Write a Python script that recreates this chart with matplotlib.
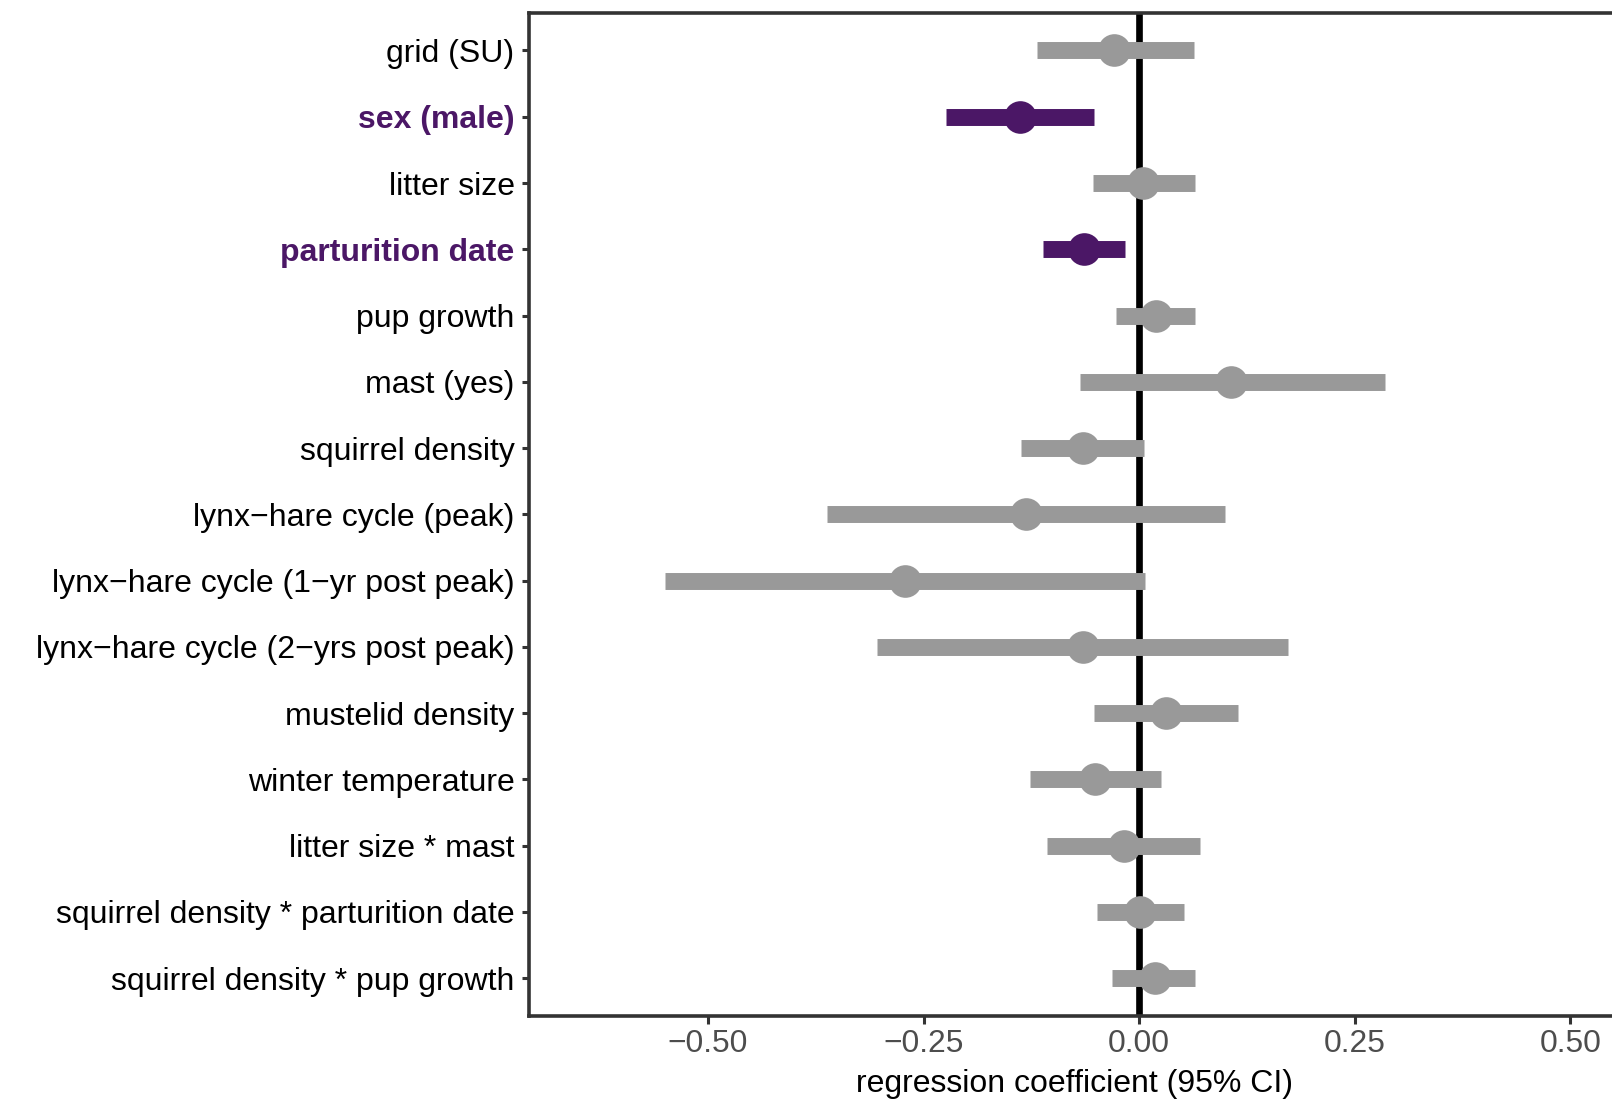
import matplotlib
matplotlib.use("Agg")
import matplotlib.pyplot as plt

plt.rcParams['font.family'] = ['Liberation Sans', 'DejaVu Sans']

labels = ["grid (SU)", "sex (male)", "litter size", "parturition date", "pup growth",
          "mast (yes)", "squirrel density", "lynx\u2212hare cycle (peak)",
          "lynx\u2212hare cycle (1\u2212yr post peak)", "lynx\u2212hare cycle (2\u2212yrs post peak)",
          "mustelid density", "winter temperature", "litter size * mast",
          "squirrel density * parturition date", "squirrel density * pup growth"]
estimate = [-0.029, -0.138, 0.005, -0.064, 0.019, 0.107, -0.065, -0.131, -0.271, -0.065,
            0.031, -0.051, -0.018, 0.001, 0.018]
lower = [-0.119, -0.224, -0.054, -0.112, -0.027, -0.069, -0.137, -0.362, -0.550, -0.304,
         -0.052, -0.127, -0.107, -0.049, -0.031]
upper = [0.063, -0.052, 0.065, -0.017, 0.065, 0.285, 0.006, 0.099, 0.007, 0.173,
         0.114, 0.025, 0.070, 0.052, 0.065]
significant = [False, True, False, True, False, False, False, False, False, False,
               False, False, False, False, False]
xticks = [-0.50, -0.25, 0.00, 0.25, 0.50]
xticklabels = ["\u22120.50", "\u22120.25", "0.00", "0.25", "0.50"]

grey = "#999999"
purple = "#4B1766"

W, H = 1612, 1099
fig = plt.figure(figsize=(W / 100, H / 100), dpi=100)
ax = fig.add_axes([529 / W, (H - 1016) / H, (1620 - 529) / W, (1016 - 12.7) / H])

n = len(labels)
ys = [n - i for i in range(n)]

ax.axvline(0, color="black", lw=4.8, zorder=1)
for y, e, lo, hi, sig in zip(ys, estimate, lower, upper, significant):
    c = purple if sig else grey
    ax.plot([lo, hi], [y, y], color=c, lw=12.2, solid_capstyle="butt", zorder=2)
    ax.plot([e], [y], "o", color=c, ms=23.5, mew=0, zorder=3)

ax.set_xlim(-0.7075, 0.5575)
ax.set_ylim(0.43, n + 0.57)
ax.set_yticks(ys)
ax.set_yticklabels(labels, fontsize=23.0)
for lab, sig in zip(ax.get_yticklabels(), significant):
    if sig:
        lab.set_color(purple)
        lab.set_fontweight("bold")
    else:
        lab.set_color("black")
ax.set_xticks(xticks)
ax.set_xticklabels(xticklabels, fontsize=22.9, color="#4D4D4D")
ax.set_xlabel("regression coefficient (95% CI)", fontsize=23.0, color="black", labelpad=7)

for s in ax.spines.values():
    s.set_color("#333333")
    s.set_linewidth(2.6)
ax.tick_params(axis="both", length=5.4, width=2.2, color="#333333")
ax.tick_params(axis="y", pad=5)
ax.tick_params(axis="x", pad=4)

fig.savefig("out.png", dpi=100, facecolor="white")
